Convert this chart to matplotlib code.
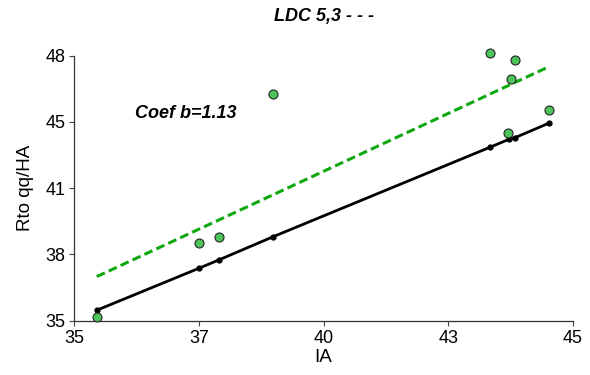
import matplotlib
matplotlib.use("Agg")
import matplotlib.pyplot as plt

plt.rcParams['font.family'] = ['Liberation Sans', 'DejaVu Sans']

# observed points
ia_obs = [35.45, 37.50, 37.90, 38.99, 43.34, 43.84, 43.76, 44.52, 43.69]
rto_obs = [35.20, 38.83, 39.09, 46.11, 48.14, 47.78, 46.84, 45.32, 44.22]

# fitted line (solid black) and LDC 5,3 line (dashed green)
ia_fit = [35.45, 37.50, 37.90, 38.99, 43.34, 43.72, 43.84, 44.52]
rto_fit = [35.51, 37.57, 37.98, 39.12, 43.51, 43.90, 43.98, 44.69]
rto_ldc = [37.16, 39.49, 39.94, 41.18, 46.12, 46.55, 46.69, 47.46]

xticks = [35, 37.5, 40, 42.5, 45]
xlabels = ['35', '37', '40', '43', '45']
yticks = [35, 38.25, 41.5, 44.75, 48]
ylabels = ['35', '38', '41', '45', '48']

fig = plt.figure(figsize=(5.9, 3.75), dpi=100)
ax = fig.add_axes([0.126, 0.145, 0.845, 0.7065])

ax.plot(ia_fit, rto_ldc, color='#10A810', lw=2.2, ls=(0, (2.9, 1.4)), zorder=2)
ax.plot(ia_fit, rto_fit, color='black', lw=2, marker='o', ms=3.5, zorder=3)
ax.scatter(ia_obs, rto_obs, s=42, color='#4CC45A', edgecolor='#222222',
           linewidth=0.8, zorder=4, clip_on=False)

ax.set_xlim(35, 45)
ax.set_ylim(35, 48)
ax.set_xticks(xticks)
ax.set_xticklabels(xlabels)
ax.set_yticks(yticks)
ax.set_yticklabels(ylabels)
ax.tick_params(labelsize=13, length=3.5, width=0.8, color='#444444', pad=3)
for s in ['top', 'right']:
    ax.spines[s].set_visible(False)
for s in ['left', 'bottom']:
    ax.spines[s].set_color('#333333')
    ax.spines[s].set_linewidth(0.9)

ax.set_xlabel('IA', fontsize=13.5, labelpad=2)
ax.set_ylabel('Rto qq/HA', fontsize=13.5, labelpad=8)
ax.set_title('LDC 5,3 - - -', fontsize=13, fontweight='bold', style='italic', pad=25)
ax.text(36.22, 45.18, 'Coef b=1.13', fontsize=13, fontweight='bold', style='italic',
        ha='left', va='center')

fig.savefig('out.png', dpi=100)
